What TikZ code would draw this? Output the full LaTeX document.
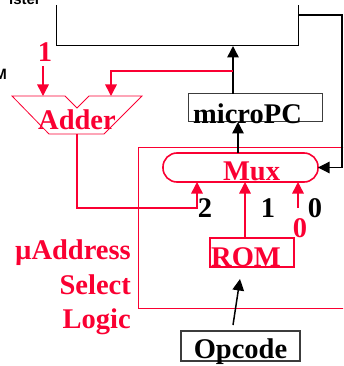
\documentclass[tikz,border=0pt]{standalone}
\usepackage{fontspec}
\setmainfont{Liberation Serif}
\newfontfamily\slidesans{Liberation Sans}
\usepackage{tikz}
\usetikzlibrary{arrows.meta, positioning}
\definecolor{SlideRed}{RGB}{250,0,50}
\definecolor{SlideGray}{RGB}{60,60,60}

\begin{document}
\begin{tikzpicture}[x=1pt, y=-1pt,
    box/.style={rectangle, draw=SlideGray, line width=1pt, inner sep=0pt, outer sep=0pt},
    lbl/.style={font=\fontsize{28.5}{30}\selectfont\bfseries, inner sep=0pt, anchor=base},
    cut/.style={font=\slidesans\fontsize{15}{15}\selectfont\bfseries, inner sep=0pt, anchor=base east},
    arr/.style={line width=1.5pt, -{Triangle[width=11.5pt,length=11.5pt]}}
  ]
  \useasboundingbox (0,0) rectangle (343,366);
  \clip (0,0) rectangle (343,366);

  % Labels cut by the left edge
  \node[cut] (regTxt) at (41,5) {ister};
  \node[cut] (romLeftTxt) at (7,80) {M};

  % Control store (top box)
  \draw[line width=1pt] (56,5) -- (56,46) -- (298,46) -- (298,5);
  \coordinate (storeIn) at (233,46);
  \coordinate (storeOut) at (298,15);
  \coordinate (rightTurn) at (342,15);
  \coordinate (tap) at (233,71);

  % Address select logic frame
  \draw[SlideRed, line width=0.8pt] (350,147) -| (138,308) -- (350,308);
  \node[lbl, anchor=base east, text=SlideRed] (selA) at (131,259) {µAddress};
  \node[lbl, anchor=base east, text=SlideRed] (selB) at (131,294) {Select};
  \node[lbl, anchor=base east, text=SlideRed] (selC) at (131,328) {Logic};

  % Mux
  \node[box, draw=SlideRed, line width=1.6pt, rounded corners=14pt,
        minimum width=155pt, minimum height=29pt] (mux) at (240.5,167.5) {};
  \node[lbl, text=SlideRed] (muxTxt) at (251.5,180) {Mux};

  % microPC
  \node[box, minimum width=134pt, minimum height=28pt] (upc) at (255,108) {};
  \node[lbl] (upcTxt) at (247.5,124) {microPC};

  % ROM
  \node[box, draw=SlideRed, line width=1.4pt, minimum width=84pt,
        minimum height=29pt] (rom) at (252,252.5) {};
  \node[lbl, text=SlideRed] (romTxt) at (246,266) {ROM};

  % Opcode
  \node[box, line width=1.2pt, minimum width=119pt, minimum height=30pt] (opc) at (240.5,346) {};
  \node[lbl] (opcTxt) at (240.5,358) {Opcode};

  % Adder
  \draw[SlideRed, line width=0.8pt] (12,96) -- (65,96) -- (77,108) -- (89,96)
        -- (142,96) -- (104,134) -- (49,134) -- cycle;
  \coordinate (adderA) at (43,96);
  \coordinate (adderB) at (111,96);
  \coordinate (adderOut) at (77,134);
  \node[lbl, text=SlideRed] (adderTxt) at (77,130) {Adder};
  \node[lbl, text=SlideRed] (oneTxt) at (45,62) {1};

  % Mux inputs
  \coordinate (in2) at (197,208);
  \coordinate (in0) at (298,208);
  \node[lbl] (twoLbl) at (205,217) {2};
  \node[lbl] (oneLbl) at (268,217) {1};
  \node[lbl] (zeroLbl) at (315,217) {0};
  \node[lbl, text=SlideRed] (zeroIn) at (300,237) {0};

  % Connectors
  \draw[arr] (upc.north -| storeIn) -- (storeIn);
  \draw[arr] ([xshift=-2.5pt]mux.north) -- ([xshift=-2.5pt]mux.north |- upc.south);
  \draw[arr, line width=1.2pt] (storeOut) -- (rightTurn) |- (mux.east);
  \draw[arr, SlideRed] (tap) -| (adderB);
  \draw[arr, SlideRed, shorten <=4pt] (oneTxt.south -| adderA) -- (adderA);
  \draw[arr, SlideRed] (adderOut) |- (in2) -- (in2 |- mux.south);
  \draw[arr, SlideRed] ([xshift=-7pt]rom.north) -- ([xshift=-7pt]rom.north |- mux.south);
  \draw[arr, SlideRed] (in0) -- (in0 |- mux.south);
  \draw[arr] ([xshift=-7.5pt, yshift=6pt]opc.north) -- ([xshift=-12pt, yshift=-12pt]rom.south);
\end{tikzpicture}
\end{document}
